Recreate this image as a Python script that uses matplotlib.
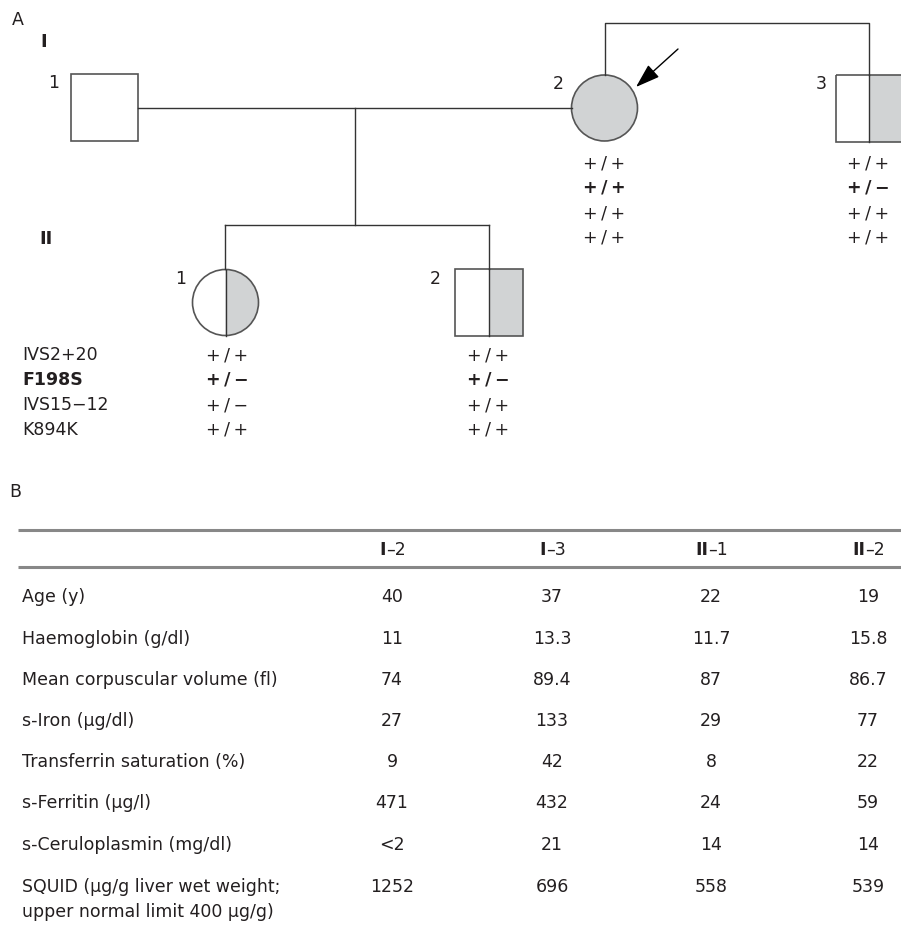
import matplotlib
matplotlib.use("Agg")
import matplotlib.pyplot as plt
from matplotlib.patches import Rectangle, Circle, Wedge

# genotype data (pedigree, panel A)
markers = ["IVS2+20", "F198S", "IVS15−12", "K894K"]
geno_I2 = ["+/+", "+/+", "+/+", "+/+"]
geno_I3 = ["+/+", "+/−", "+/+", "+/+"]
geno_II1 = ["+/+", "+/−", "+/−", "+/+"]
geno_II2 = ["+/+", "+/−", "+/+", "+/+"]
bold_marker = "F198S"

# clinical table (panel B)
col_gen = ["I", "I", "II", "II"]
col_num = ["–2", "–3", "–1", "–2"]
row_labels = ["Age (y)", "Haemoglobin (g/dl)", "Mean corpuscular volume (fl)",
              "s-Iron (μg/dl)", "Transferrin saturation (%)", "s-Ferritin (μg/l)",
              "s-Ceruloplasmin (mg/dl)",
              "SQUID (μg/g liver wet weight;\nupper normal limit 400 μg/g)"]
val_I2 = ["40", "11", "74", "27", "9", "471", "<2", "1252"]
val_I3 = ["37", "13.3", "89.4", "133", "42", "432", "21", "696"]
val_II1 = ["22", "11.7", "87", "29", "8", "24", "14", "558"]
val_II2 = ["19", "15.8", "86.7", "77", "22", "59", "14", "539"]

TXT = "#231f20"
LINE = "#333333"
GREY = "#d1d3d4"
FS = 12.5

fig = plt.figure(figsize=(9.01, 9.35), dpi=100)
ax = fig.add_axes([0, 0, 1, 1])
ax.set_xlim(0, 901)
ax.set_ylim(935, 0)
ax.axis("off")


def gt(s):
    # spread out the genotype like in the print
    return s.replace("/", "\u2009/\u2009")


# ---- panel A ----
ax.text(18, 20, "A", fontsize=FS, color=TXT, ha="center", va="center")
ax.text(44, 42, "I", fontsize=13, fontweight="bold", color=TXT, ha="center", va="center")
ax.text(46, 239, "II", fontsize=13, fontweight="bold", color=TXT, ha="center", va="center")

# lines
ax.plot([138, 571.5], [107.5, 107.5], color=LINE, lw=1)
ax.plot([355, 355], [107.5, 225], color=LINE, lw=1)
ax.plot([225, 489], [225, 225], color=LINE, lw=1)
ax.plot([225, 225], [225, 269], color=LINE, lw=1)
ax.plot([489, 489], [225, 269], color=LINE, lw=1)
ax.plot([604.5, 604.5, 869, 869], [75, 23, 23, 75], color=LINE, lw=1)

# I-1 square
ax.add_patch(Rectangle((71, 74), 67, 67, fc="white", ec="#555555", lw=1.2))
ax.text(54, 83, "1", fontsize=FS, color=TXT, ha="center", va="center")

# I-2 affected circle
ax.add_patch(Circle((604.5, 108), 33, fc=GREY, ec="#555555", lw=1.2))
ax.text(558, 84, "2", fontsize=FS, color=TXT, ha="center", va="center")
ax.annotate("", xy=(636, 87), xytext=(678, 49),
            arrowprops=dict(arrowstyle="-|>,head_length=0.75,head_width=0.25",
                            color="black", lw=1, mutation_scale=20, shrinkA=0, shrinkB=0))

# I-3 half square
ax.add_patch(Rectangle((869, 75), 34, 67, fc=GREY, ec="none"))
ax.add_patch(Rectangle((836, 75), 67, 67, fc="none", ec="#555555", lw=1.2))
ax.plot([869, 869], [75, 142], color=LINE, lw=1)
ax.text(821, 84, "3", fontsize=FS, color=TXT, ha="center", va="center")

# II-1 half circle
ax.add_patch(Wedge((225.5, 302.5), 33, -90, 90, fc=GREY, ec="none"))
ax.add_patch(Circle((225.5, 302.5), 33, fc="none", ec="#555555", lw=1.2))
ax.plot([225.5, 225.5], [269.5, 335.5], color=LINE, lw=1)
ax.text(181, 279, "1", fontsize=FS, color=TXT, ha="center", va="center")

# II-2 half square
ax.add_patch(Rectangle((489, 269), 34, 67, fc=GREY, ec="none"))
ax.add_patch(Rectangle((455, 269), 68, 67, fc="none", ec="#555555", lw=1.2))
ax.plot([489, 489], [269, 336], color=LINE, lw=1)
ax.text(435, 279, "2", fontsize=FS, color=TXT, ha="center", va="center")

# genotypes
row_I = [163, 188, 213, 237]
row_II = [355, 380, 405, 430]
for i, m in enumerate(markers):
    w = "bold" if m == bold_marker else "normal"
    ax.text(22, row_II[i], m, fontsize=FS, fontweight=w, color=TXT, ha="left", va="center")
    ax.text(604, row_I[i], gt(geno_I2[i]), fontsize=FS, fontweight=w, color=TXT, ha="center", va="center")
    ax.text(868, row_I[i], gt(geno_I3[i]), fontsize=FS, fontweight=w, color=TXT, ha="center", va="center")
    ax.text(227, row_II[i], gt(geno_II1[i]), fontsize=FS, fontweight=w, color=TXT, ha="center", va="center")
    ax.text(488, row_II[i], gt(geno_II2[i]), fontsize=FS, fontweight=w, color=TXT, ha="center", va="center")

# ---- panel B ----
ax.text(15, 492, "B", fontsize=FS, color=TXT, ha="center", va="center")
ax.plot([18, 901], [530, 530], color="#888888", lw=2.2, solid_capstyle="butt")
ax.plot([18, 901], [567, 567], color="#888888", lw=2.2, solid_capstyle="butt")

col_x = [392, 552, 711, 868]
for x, g, n in zip(col_x, col_gen, col_num):
    split = x - (6 if g == "I" else 3)
    ax.text(split, 550, g, fontsize=FS, fontweight="bold", color=TXT, ha="right", va="center")
    ax.text(split, 550, n, fontsize=FS, color=TXT, ha="left", va="center")

row_y = [597, 639, 680, 721, 762, 803, 845, 887]
cols = [val_I2, val_I3, val_II1, val_II2]
for j, (lab, y) in enumerate(zip(row_labels, row_y)):
    for k, line in enumerate(lab.split("\n")):
        ax.text(22, y + 25 * k, line, fontsize=FS, color=TXT, ha="left", va="center")
    for x, vals in zip(col_x, cols):
        ax.text(x, y, vals[j], fontsize=FS, color=TXT, ha="center", va="center")

fig.savefig("out.png", dpi=100, facecolor="white")
